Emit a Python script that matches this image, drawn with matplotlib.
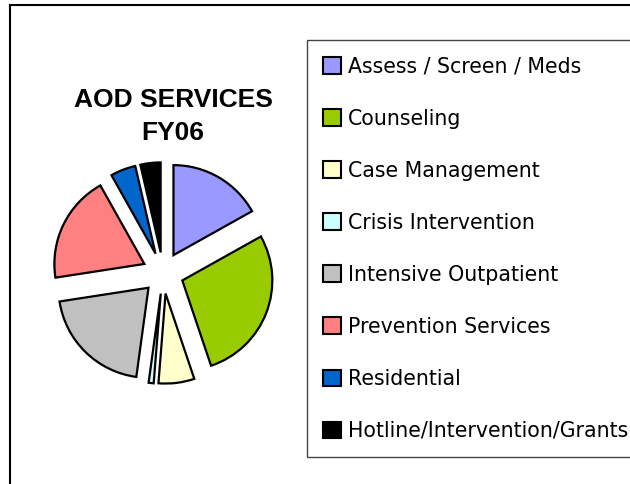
import matplotlib
matplotlib.use("Agg")
import matplotlib.pyplot as plt
from matplotlib.patches import Rectangle

# AOD services FY06, share of total
services = ['Assess / Screen / Meds', 'Counseling', 'Case Management',
            'Crisis Intervention', 'Intensive Outpatient', 'Prevention Services',
            'Residential', 'Hotline/Intervention/Grants']
shares = [16.8, 27.8, 6.4, 0.9, 20.3, 19.2, 4.5, 3.6]
colors = ['#9999FF', '#99CC00', '#FFFFCC', '#CCFFFF',
          '#C0C0C0', '#FF8080', '#0066CC', '#000000']
title_lines = ['AOD SERVICES', 'FY06']

W, H = 630, 484
fig = plt.figure(figsize=(W / 100, H / 100), dpi=100)
fig.patch.set_facecolor('white')

# outer chart frame (runs off the right and bottom edges)
fig.patches.append(Rectangle((10 / W, -0.05), 1.0, (H - 5) / H + 0.05,
                             transform=fig.transFigure, fill=False,
                             edgecolor='black', linewidth=1.5))

# pie: center at (163, 273) px, radius 90 px
R = 90
cx, cy = 163, 273
ax = fig.add_axes([(cx - 1.5 * R) / W, (H - cy - 1.5 * R) / H, 3 * R / W, 3 * R / H])
wedges, _ = ax.pie(shares, colors=colors, startangle=90, counterclock=False,
                   explode=[0.23] * len(shares),
                   wedgeprops=dict(edgecolor='black', linewidth=1.6))
ax.set_xlim(-1.5, 1.5)
ax.set_ylim(-1.5, 1.5)
ax.set_aspect('equal')
ax.axis('off')

# two-line title, baselines at 107 and 140 px
for line, base in zip(title_lines, [107, 140]):
    fig.text(173 / W, 1 - base / H, line, ha='center', va='baseline',
             fontsize=19, fontweight='bold', family='Liberation Sans')

leg = fig.legend(wedges, services, loc='upper left',
                 bbox_to_anchor=(307 / W, 1 - 40 / H), borderaxespad=0,
                 prop={'family': 'DejaVu Sans', 'size': 14.8},
                 handlelength=0.85, handleheight=0.85, handletextpad=0.35,
                 labelspacing=1.56, borderpad=0.8, fancybox=False,
                 framealpha=1, edgecolor='#444444')
leg.get_frame().set_linewidth(1.0)
for h in leg.legend_handles:
    h.set_linewidth(1.5)

fig.savefig('out.png', dpi=100)
